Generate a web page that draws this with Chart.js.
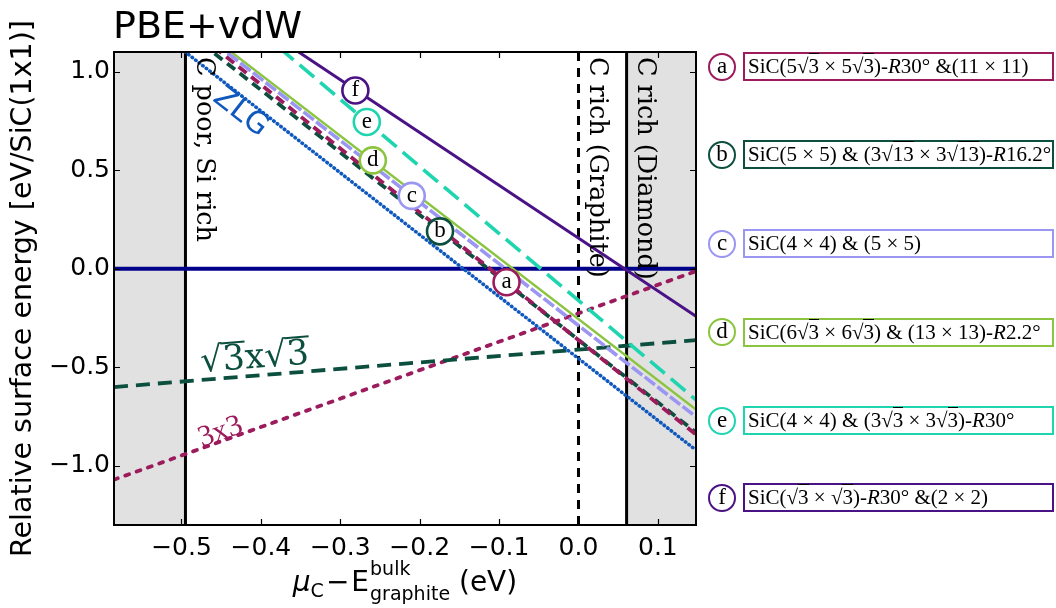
<!DOCTYPE html>
<html><head><meta charset="utf-8">
<script src="https://cdn.jsdelivr.net/npm/chart.js@4.4.1/dist/chart.umd.min.js"></script>
<style>
html,body{margin:0;padding:0;background:#fff}
#stage{position:relative;width:1056px;height:608px;overflow:hidden;background:#fff}
#c{position:absolute;left:0;top:0}
.circ{position:absolute;box-sizing:border-box;left:708px;width:28px;height:28px;border:2.5px solid;border-radius:50%;background:#fff;font:23px 'Liberation Serif',serif;color:#000;text-align:center;line-height:21px}
.box{position:absolute;box-sizing:border-box;left:743px;width:311px;height:29px;border:2.5px solid;font:21px 'Liberation Serif',serif;color:#000;line-height:24px;padding-left:3px;white-space:nowrap;overflow:visible}
.ov{border-top:1.4px solid #000}
</style></head><body>
<div id="stage"><canvas id="c" width="1056" height="608"></canvas><div id="legend"></div></div>
<script>
// ---------------- data ----------------
const xLimits = [-0.585, 0.148];
const yLimits = [-1.3, 1.1];
const xTickValues = [-0.5, -0.4, -0.3, -0.2, -0.1, 0.0, 0.1];
const yTickValues = [-1.0, -0.5, 0.0, 0.5, 1.0];
const cPoorX = -0.495;
const graphiteX = 0.0;
const diamondX = 0.0606;
// relative surface energy at the left (x = -0.585) and right (x = 0.148) limits
const lineA = [1.534, -0.841];
const lineB = [1.494, -0.830];
const lineC = [1.543, -0.751];
const lineD = [1.558, -0.714];
const lineE = [1.830, -0.665];
const lineF = [1.723, -0.241];
const lineZLG = [1.382, -0.920];
const lineSqrt3 = [-0.600, -0.362];
const line3x3 = [-1.070, -0.012];
const lineRef = [0.0, 0.0];
const markerLetters = ['a', 'b', 'c', 'd', 'e', 'f'];
const markerX = [-0.0906, -0.1744, -0.210, -0.259, -0.2666, -0.281];
const markerY = [-0.068, 0.190, 0.370, 0.550, 0.745, 0.905];
const legendLabels = [
  'SiC(5√<span class="ov">3</span> × 5√<span class="ov">3</span>)-<i>R</i>30° &amp;(11 × 11)',
  'SiC(5 × 5) &amp; (3√<span class="ov">13</span> × 3√<span class="ov">13</span>)-<i>R</i>16.2°',
  'SiC(4 × 4) &amp; (5 × 5)',
  'SiC(6√<span class="ov">3</span> × 6√<span class="ov">3</span>) &amp; (13 × 13)-<i>R</i>2.2°',
  'SiC(4 × 4) &amp; (3√<span class="ov">3</span> × 3√<span class="ov">3</span>)-<i>R</i>30°',
  'SiC(√<span class="ov">3</span> × √<span class="ov">3</span>)-<i>R</i>30° &amp;(2 × 2)'
];
const regionLabels = ['C poor, Si rich', 'C rich (Graphite)', 'C rich (Diamond)'];

// ---------------- styles ----------------
const colA = '#9c1b5c', colB = '#0c4f3f', colC = '#9a96f2', colD = '#8bc540',
      colE = '#1fd5b0', colF = '#4b1286', colZLG = '#0f58be', colRef = '#00008a';
const markerColors = [colA, colB, colC, colD, colE, colF];
const legendRowCenters = [66.5, 154.7, 243.5, 332, 420.5, 497.5];
const GRAY = '#e1e1e1';

// legend (HTML)
const legendDiv = document.getElementById('legend');
markerLetters.forEach((L, i) => {
  const c = document.createElement('div');
  c.className = 'circ';
  c.style.top = (legendRowCenters[i] - 14) + 'px';
  c.style.borderColor = markerColors[i];
  c.textContent = L;
  legendDiv.appendChild(c);
  const b = document.createElement('div');
  b.className = 'box';
  b.style.top = (legendRowCenters[i] - 14.5) + 'px';
  b.style.borderColor = markerColors[i];
  b.innerHTML = legendLabels[i];
  legendDiv.appendChild(b);
});

function seg(ends, color, width, dash, cap, order) {
  return {
    data: [{x: xLimits[0], y: ends[0]}, {x: xLimits[1], y: ends[1]}],
    borderColor: color, borderWidth: width, borderDash: dash || [],
    borderCapStyle: cap || 'butt', pointRadius: 0, fill: false, tension: 0, order
  };
}
function vline(xv, dash, order) {
  return {
    data: [{x: xv, y: yLimits[0]}, {x: xv, y: yLimits[1]}],
    borderColor: '#000', borderWidth: 3, borderDash: dash || [],
    pointRadius: 0, fill: false, order
  };
}

const datasets = [
  {
    data: markerX.map((x, i) => ({x, y: markerY[i]})),
    showLine: false, pointRadius: 13, pointBorderWidth: 2.6,
    pointBackgroundColor: '#fff', pointBorderColor: markerColors, order: 0
  },
  seg(lineF, colF, 3, [], 'butt', 1),
  seg(lineE, colE, 3.6, [19, 8], 'butt', 2),
  seg(lineC, colC, 3.6, [13, 3], 'butt', 3),
  seg(lineD, colD, 2.4, [], 'butt', 4),
  seg(lineA, colA, 3.8, [10, 6], 'butt', 5),
  seg(lineB, colB, 3.8, [10, 6], 'butt', 6),
  seg(lineZLG, colZLG, 3.6, [0.5, 4], 'round', 7),
  seg(lineSqrt3, colB, 3.8, [14, 8], 'butt', 8),
  seg(line3x3, colA, 3.8, [4, 8], 'round', 9),
  seg(lineRef, colRef, 4, [], 'butt', 10),
  vline(cPoorX, [], 11),
  vline(graphiteX, [9, 7], 12),
  vline(diamondX, [], 13)
];
const markerIdx = 0;

function fmt(v) {
  const s = Math.abs(v).toFixed(1);
  return (v < -1e-9 ? '−' : '') + s;
}

function drawRich(ctx, parts, size, family) {
  ctx.font = size + "px " + family;
  const w = parts.map(p => ctx.measureText(p.t).width);
  const total = w.reduce((a, b) => a + b, 0);
  let x0 = -total / 2;
  const base = size * 0.35;
  parts.forEach((p, i) => {
    ctx.fillText(p.t, x0, base);
    if (p.bar) ctx.fillRect(x0 - 1, base - size * 0.80, w[i] + 2, 2);
    x0 += w[i];
  });
}

function drawXTitle(ctx, cx, base) {
  const fam = "'DejaVu Sans'";
  const pieces = [
    {t: 'μ', f: 'italic 28px ' + fam, dy: 0},
    {t: 'C', f: '19px ' + fam, dy: 6},
    {t: '−', f: '28px ' + fam, dy: 0, pl: 2, pr: 2},
    {t: 'E', f: '28px ' + fam, dy: 0, pr: 1},
    {t: 'bulk', f: '19px ' + fam, dy: -16, noadv: true},
    {t: 'graphite', f: '19px ' + fam, dy: 9},
    {t: ' (eV)', f: '28px ' + fam, dy: 0}
  ];
  let total = 0;
  pieces.forEach(p => { ctx.font = p.f; p.w = ctx.measureText(p.t).width; if (!p.noadv) total += p.w + (p.pl || 0) + (p.pr || 0); });
  let x = cx - total / 2;
  ctx.textAlign = 'left'; ctx.textBaseline = 'alphabetic';
  pieces.forEach(p => {
    ctx.font = p.f;
    ctx.fillText(p.t, x + (p.pl || 0), base + p.dy);
    if (!p.noadv) x += p.w + (p.pl || 0) + (p.pr || 0);
  });
}

const overlay = {
  id: 'overlay',
  beforeDatasetsDraw(chart) {
    const {ctx, chartArea: a, scales: {x: xs}} = chart;
    const shaded = [[xLimits[0], cPoorX], [diamondX, xLimits[1]]];
    ctx.save();
    ctx.fillStyle = GRAY;
    shaded.forEach(([x0, x1]) => {
      const p0 = xs.getPixelForValue(x0), p1 = xs.getPixelForValue(x1);
      ctx.fillRect(p0, a.top, p1 - p0, a.bottom - a.top);
    });
    ctx.restore();
  },
  afterDatasetsDraw(chart) {
    const {ctx, chartArea: a, scales: {x: xs, y: ys}} = chart;
    ctx.save();
    // frame
    ctx.strokeStyle = '#000'; ctx.lineWidth = 2;
    ctx.strokeRect(a.left, a.top, a.right - a.left, a.bottom - a.top);
    // inward ticks
    ctx.lineWidth = 1.2;
    ctx.beginPath();
    xTickValues.forEach(v => {
      const p = Math.round(xs.getPixelForValue(v)) + 0.5;
      ctx.moveTo(p, a.bottom); ctx.lineTo(p, a.bottom - 6);
      ctx.moveTo(p, a.top); ctx.lineTo(p, a.top + 6);
    });
    yTickValues.forEach(v => {
      const p = Math.round(ys.getPixelForValue(v)) + 0.5;
      ctx.moveTo(a.left, p); ctx.lineTo(a.left + 6, p);
      ctx.moveTo(a.right, p); ctx.lineTo(a.right - 6, p);
    });
    ctx.stroke();
    // letters in markers
    const meta = chart.getDatasetMeta(markerIdx);
    ctx.fillStyle = '#000';
    ctx.font = "23px 'Liberation Serif'";
    ctx.textAlign = 'center'; ctx.textBaseline = 'middle';
    meta.data.forEach((p, i) => ctx.fillText(markerLetters[i], p.x, p.y));
    // vertical region labels
    ctx.font = "25.5px 'DejaVu Serif'";
    ctx.textAlign = 'left'; ctx.textBaseline = 'middle';
    [cPoorX, graphiteX, diamondX].forEach((xv, i) => {
      ctx.save();
      ctx.translate(xs.getPixelForValue(xv) + 18.5, a.top + 5);
      ctx.rotate(Math.PI / 2);
      ctx.fillText(regionLabels[i], 0, 0);
      ctx.restore();
    });
    // ZLG
    ctx.save();
    ctx.fillStyle = colZLG;
    ctx.translate(xs.getPixelForValue(-0.4258), ys.getPixelForValue(0.793));
    ctx.rotate(38 * Math.PI / 180);
    ctx.font = "30px 'DejaVu Sans'"; ctx.textAlign = 'center'; ctx.textBaseline = 'middle';
    ctx.fillText('ZLG', 0, 0);
    ctx.restore();
    // sqrt3 x sqrt3
    ctx.save();
    ctx.fillStyle = colB;
    ctx.translate(xs.getPixelForValue(-0.408), ys.getPixelForValue(-0.44));
    ctx.rotate(-4.6 * Math.PI / 180);
    ctx.textAlign = 'left'; ctx.textBaseline = 'alphabetic';
    drawRich(ctx, [{t: '√'}, {t: '3', bar: true}, {t: 'x'}, {t: '√'}, {t: '3', bar: true}], 35, "'DejaVu Serif'");
    ctx.restore();
    // 3x3
    ctx.save();
    ctx.fillStyle = colA;
    ctx.translate(xs.getPixelForValue(-0.452), ys.getPixelForValue(-0.816));
    ctx.rotate(-19.6 * Math.PI / 180);
    ctx.textAlign = 'left'; ctx.textBaseline = 'alphabetic';
    drawRich(ctx, [{t: '3x3'}], 30, "'Liberation Serif'");
    ctx.restore();
    ctx.restore();
  },
  afterDraw(chart) {
    const {ctx, chartArea: a} = chart;
    ctx.save();
    ctx.fillStyle = '#000';
    ctx.font = "38px 'DejaVu Sans'";
    ctx.textAlign = 'left'; ctx.textBaseline = 'alphabetic';
    ctx.fillText('PBE+vdW', 113, 37.5);
    drawXTitle(ctx, (a.left + a.right) / 2, 591);
    ctx.restore();
  }
};

new Chart(document.getElementById('c'), {
  type: 'line',
  data: {datasets},
  options: {
    responsive: false, devicePixelRatio: 1, animation: false, events: [],
    layout: {padding: {left: 0, top: 52, right: 360, bottom: 0}},
    plugins: {legend: {display: false}, tooltip: {enabled: false}, title: {display: false}},
    scales: {
      x: {
        type: 'linear', min: xLimits[0], max: xLimits[1],
        afterBuildTicks: s => { s.ticks = xTickValues.map(v => ({value: v})); },
        afterFit: s => { s.height = 83; },
        grid: {display: false, drawTicks: false}, border: {display: false},
        ticks: {color: '#000', font: {family: 'DejaVu Sans', size: 25}, padding: 8, maxRotation: 0, autoSkip: false, callback: v => fmt(v)}
      },
      y: {
        type: 'linear', min: yLimits[0], max: yLimits[1],
        afterBuildTicks: s => { s.ticks = yTickValues.map(v => ({value: v})); },
        afterFit: s => { s.width = 114; },
        grid: {display: false, drawTicks: false}, border: {display: false},
        ticks: {color: '#000', font: {family: 'DejaVu Sans', size: 25}, padding: 4, autoSkip: false, callback: v => fmt(v)},
        title: {display: true, text: 'Relative surface energy [eV/SiC(1x1)]', color: '#000', font: {family: 'DejaVu Sans', size: 28.5}, padding: {top: 6, bottom: 0}}
      }
    }
  },
  plugins: [overlay]
});
</script>
</body></html>
